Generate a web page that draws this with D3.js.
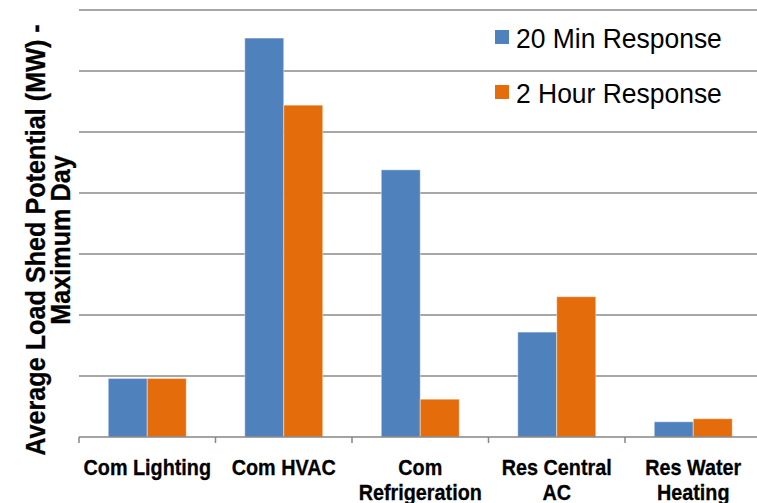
<!DOCTYPE html>
<html>
<head>
<meta charset="utf-8">
<script src="https://cdn.jsdelivr.net/npm/d3@7"></script>
<style>
  html, body { margin: 0; padding: 0; background: #ffffff; }
  svg { display: block; font-family: "Liberation Sans", Arial, sans-serif; }
</style>
</head>
<body>
<svg id="chart" width="757" height="503"></svg>
<script>
// Load shed potential by end use (gridline units, axis has no printed values)
const categories = ["Com Lighting", "Com HVAC", "Com Refrigeration", "Res Central AC", "Res Water Heating"];
const categoryLines = [["Com Lighting"], ["Com HVAC"], ["Com", "Refrigeration"], ["Res Central", "AC"], ["Res Water", "Heating"]];
const seriesNames = ["20 Min Response", "2 Hour Response"];
const min20Values = [0.96, 6.54, 4.38, 1.72, 0.25];
const hour2Values = [0.96, 5.44, 0.62, 2.30, 0.30];
const gridValues = [0, 1, 2, 3, 4, 5, 6, 7];
const yTitleLines = ["Average Load Shed Potential (MW) -", "Maximum Day"];

const colors = { "20 Min Response": "#4f81bd", "2 Hour Response": "#e46c0a" };
const seriesValues = { "20 Min Response": min20Values, "2 Hour Response": hour2Values };

const svg = d3.select("#chart");
const plotLeft = 79, plotRight = 761.5, plotTop = 10, plotBottom = 437;

const x0 = d3.scaleBand().domain(categories).range([plotLeft, plotRight])
  .paddingInner(0.4286).paddingOuter(0.2143);
const x1 = d3.scaleBand().domain(seriesNames).range([0, x0.bandwidth()]);
const y = d3.scaleLinear().domain([0, 7]).range([plotBottom, plotTop]);

// horizontal gridlines
svg.append("g")
  .selectAll("line")
  .data(gridValues.filter(v => v > 0))
  .join("line")
  .attr("x1", plotLeft).attr("x2", 757)
  .attr("y1", d => y(d)).attr("y2", d => y(d))
  .attr("stroke", "#8a8a8a").attr("stroke-width", 1.3);

// bars
const rows = categories.map((c, i) => ({ c, vals: seriesNames.map(s => ({ s, v: seriesValues[s][i] })) }));
svg.append("g")
  .selectAll("g")
  .data(rows)
  .join("g")
  .attr("transform", d => `translate(${x0(d.c)},0)`)
  .selectAll("rect")
  .data(d => d.vals)
  .join("rect")
  .attr("x", d => x1(d.s))
  .attr("width", x1.bandwidth())
  .attr("y", d => y(d.v))
  .attr("height", d => y(0) - y(d.v))
  .attr("fill", d => colors[d.s])
  .attr("stroke", "rgba(255,255,255,0.45)")
  .attr("stroke-width", 1);

// category axis with tick marks at band boundaries
const step = x0.step();
const boundaries = categories.map((c, i) => plotLeft + i * step).concat([plotRight]);
const axis = svg.append("g");
axis.append("line")
  .attr("x1", plotLeft).attr("x2", 757)
  .attr("y1", plotBottom).attr("y2", plotBottom)
  .attr("stroke", "#868686").attr("stroke-width", 1.5);
axis.selectAll("line.tick")
  .data(boundaries)
  .join("line")
  .attr("class", "tick")
  .attr("x1", d => d).attr("x2", d => d)
  .attr("y1", plotBottom).attr("y2", plotBottom + 6)
  .attr("stroke", "#868686").attr("stroke-width", 1.5);

// category labels (slightly condensed bold face)
svg.append("g")
  .selectAll("text")
  .data(categories)
  .join("text")
  .attr("transform", d => `translate(${x0(d) + x0.bandwidth() / 2},475) scale(0.9,1)`)
  .attr("text-anchor", "middle")
  .attr("font-size", "22px")
  .attr("font-weight", "bold")
  .attr("fill", "#000")
  .attr("stroke", "#000").attr("stroke-width", 0.3)
  .each(function (d, i) {
    d3.select(this).selectAll("tspan")
      .data(categoryLines[i])
      .join("tspan")
      .attr("x", 0)
      .attr("dy", (t, j) => j === 0 ? 0 : 25)
      .text(t => t);
  });

// y axis title
svg.append("g")
  .selectAll("text")
  .data(yTitleLines)
  .join("text")
  .attr("transform", (d, i) => `translate(${45 + i * 25},240) rotate(-90) scale(0.9,1)`)
  .attr("text-anchor", "middle")
  .attr("font-size", "28px")
  .attr("font-weight", "bold")
  .attr("fill", "#000")
  .attr("stroke", "#000").attr("stroke-width", 0.3)
  .text(d => d);

// legend
const legend = svg.append("g")
  .selectAll("g")
  .data(seriesNames)
  .join("g")
  .attr("transform", (d, i) => `translate(495,${30 + i * 55})`);
legend.append("rect")
  .attr("width", 14).attr("height", 14)
  .attr("fill", d => colors[d]);
legend.append("text")
  .attr("transform", "translate(21,18.3) scale(0.98,1)")
  .attr("font-size", "27px")
  .attr("fill", "#000")
  .text(d => d);
</script>
</body>
</html>
